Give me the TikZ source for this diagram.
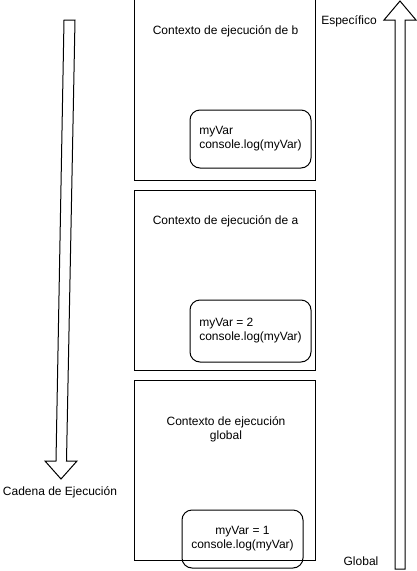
\documentclass[tikz,border=0pt]{standalone}
\usepackage{fontspec}
\setmainfont{Liberation Sans}
\usetikzlibrary{calc, positioning}

\begin{document}
\begin{tikzpicture}[x=1pt, y=-1pt,
    every node/.style={font=\fontsize{12pt}{14pt}\selectfont, inner sep=0},
    ctxbox/.style={draw, line width=1pt, minimum width=181pt},
    varbox/.style={draw, line width=1pt, rounded corners=10pt, minimum width=121pt, minimum height=58pt},
    hollow/.style={draw, line width=1pt, fill=white, line join=miter}]
                    \useasboundingbox (0,0) rectangle (417,571);

                    % execution contexts
                    \node[ctxbox, minimum height=181pt] (ctxb) at (225,89.5) {};
                    \node[ctxbox, minimum height=180pt] (ctxa) at (225,280) {};
                    \node[ctxbox, minimum height=180pt] (ctxg) at (225,470) {};

                    % titles
                    \node (titleb) at ($(ctxb.north) + (0.5,33)$) {Contexto de ejecución de b};
                    \node (titlea) at ($(ctxa.north) + (0.5,32)$) {Contexto de ejecución de a};
                    \node[align=center] (titleg) at ($(ctxg.north) + (1,50)$) {Contexto de ejecución\\global};

                    % variables
                    \node[varbox, align=left] (varb) at (250.5,139) {myVar\\console.log(myVar)};
                    \node[varbox, align=left, minimum height=62pt] (vara) at (250.5,331) {myVar = 2\\console.log(myVar)};
                    \node[varbox, align=center] (varg) at (242.5,539) {myVar = 1\\console.log(myVar)};

                    % left arrow
                    \coordinate (chaintop) at (69.5,20);
                    \coordinate (chaintip) at (61,479);
                    \draw[hollow] (64,20) -- (75,20) -- (66.5,461) -- (77,461) -- (chaintip) -- (45,461) -- (56,461) -- cycle;
                    \node (chain) at (60,492) {Cadena de Ejecución};

                    % right arrow
                    \coordinate (scopetip) at (400,1);
                    \coordinate (scopebase) at (400,569);
                    \draw[hollow] (395,569) -- (395,20) -- (384,20) -- (scopetip) -- (416,20) -- (405,20) -- (405,569) -- cycle;
                    \node (specific) at (349,21) {Específico};
                    \node (global) at (361,561) {Global};
\end{tikzpicture}
\end{document}
